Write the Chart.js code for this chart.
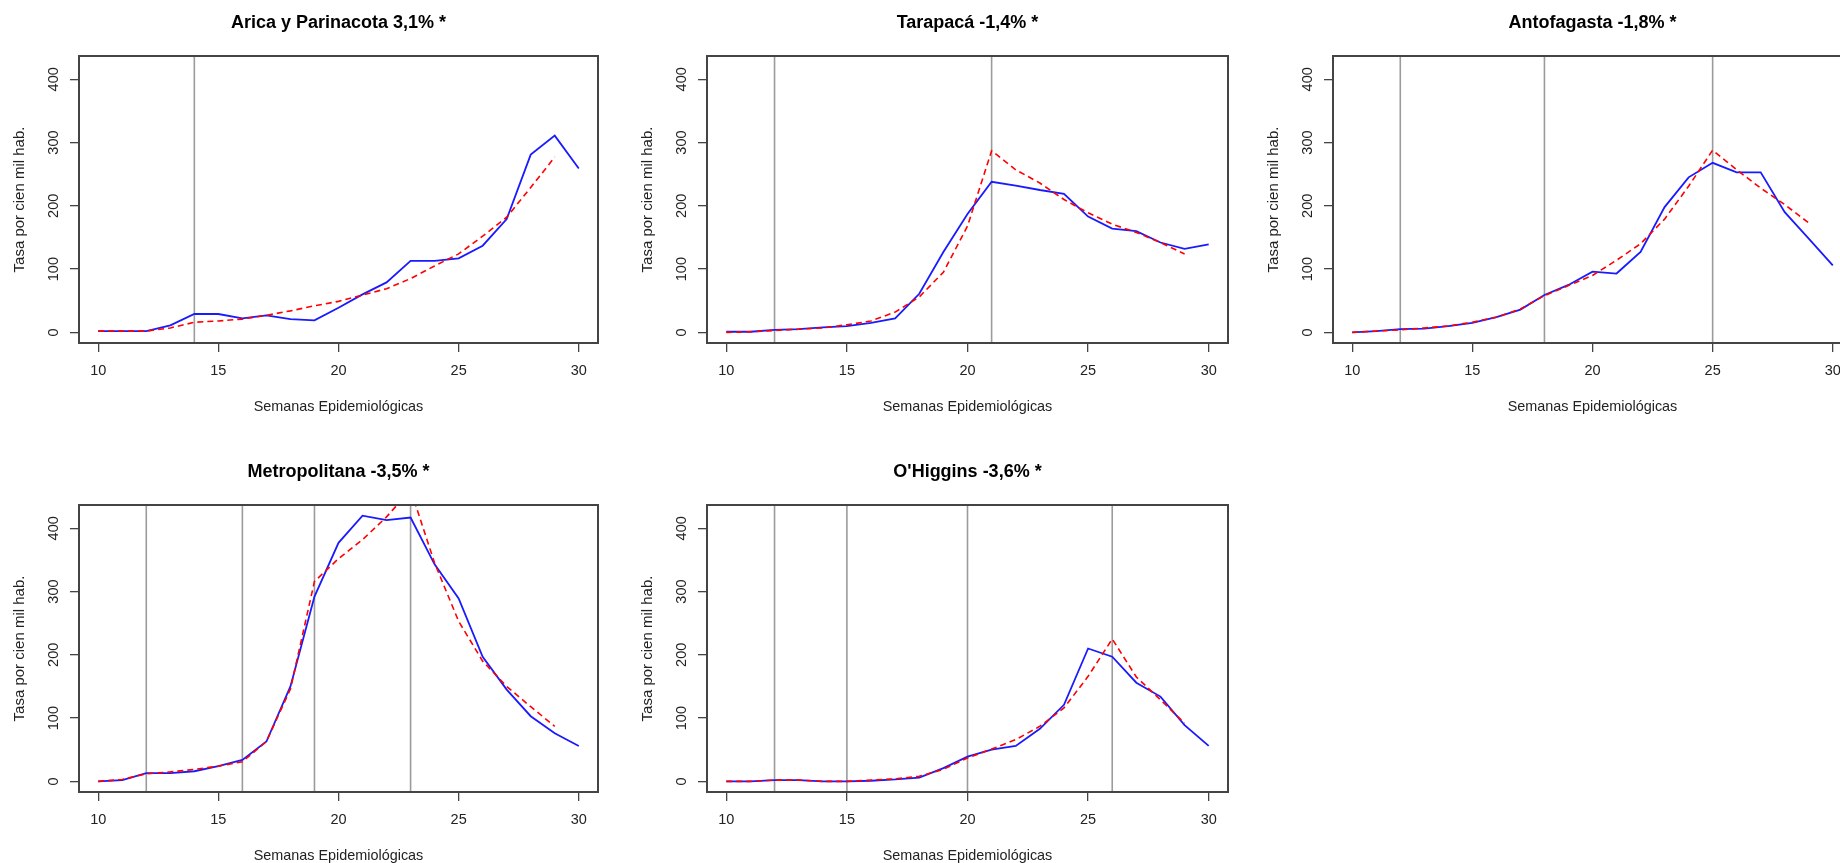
<!DOCTYPE html>
<html><head><meta charset="utf-8">
<script src="https://cdn.jsdelivr.net/npm/chart.js@4.4.1/dist/chart.umd.min.js"></script>
<style>
html,body{margin:0;padding:0;background:#fff;overflow:hidden;width:1840px;height:863px;}
canvas{position:absolute;}
</style></head><body>
<script>
// ---- data ----
const weeks = [10,11,12,13,14,15,16,17,18,19,20,21,22,23,24,25,26,27,28,29,30];
const xTicks = [10,15,20,25,30];
const yTicks = [0,100,200,300,400];
const xTitle = 'Semanas Epidemiológicas';
const yTitle = 'Tasa por cien mil hab.';

const aricaTitle = 'Arica y Parinacota 3,1% *';
const aricaObs = [2,2,2,11,29,29,22,27,21,19,39,60,79,113,113,117,137,179,281,311,259];
const aricaFit = [2,2,2,7,16,18,21,27,34,42,49,59,69,85,105,124,152,182,229,277];
const aricaBreaks = [14];

const tarapacaTitle = 'Tarapacá -1,4% *';
const tarapacaObs = [1,1,4,5,8,10,15,22,61,127,187,238,232,225,219,183,164,160,142,132,139];
const tarapacaFit = [0,1,3,5,7,12,18,32,56,95,168,287,257,236,210,189,171,158,142,124];
const tarapacaBreaks = [12,21];

const antofagastaTitle = 'Antofagasta -1,8% *';
const antofagastaObs = [0,2,5,6,10,15,24,36,59,75,96,93,127,198,245,268,253,253,190,148,106];
const antofagastaFit = [0,2,4,7,10,16,24,37,58,74,90,114,140,179,231,288,257,228,202,173];
const antofagastaBreaks = [12,18,25];

const metroTitle = 'Metropolitana -3,5% *';
const metroObs = [0,2,13,13,16,24,34,63,150,292,377,420,413,417,343,289,197,145,103,76,56];
const metroFit = [0,3,12,15,19,24,31,63,146,316,352,382,418,461,345,253,190,150,118,87];
const metroBreaks = [12,16,19,23];

const ohigginsTitle = "O'Higgins -3,6% *";
const ohigginsObs = [0,0,2,2,0,0,1,3,6,21,39,50,56,83,121,210,197,156,134,89,56];
const ohigginsFit = [0,0,2,2,0,0,2,4,8,19,37,51,66,87,116,166,225,165,129,92];
const ohigginsBreaks = [12,15,20,26];

// ---- layout ----
const FONT = "'Liberation Sans', Arial, Helvetica, sans-serif";
const Y_AXIS_W = 79, X_AXIS_H = 88, TITLE_H = 56, PLOT_H = 287, RIGHT_PAD = 12;
const panels = [
  {title: aricaTitle, obs: aricaObs, fit: aricaFit, breaks: aricaBreaks, left: 0, top: 0, plotW: 519},
  {title: tarapacaTitle, obs: tarapacaObs, fit: tarapacaFit, breaks: tarapacaBreaks, left: 628, top: 0, plotW: 521},
  {title: antofagastaTitle, obs: antofagastaObs, fit: antofagastaFit, breaks: antofagastaBreaks, left: 1254, top: 0, plotW: 519},
  {title: metroTitle, obs: metroObs, fit: metroFit, breaks: metroBreaks, left: 0, top: 449, plotW: 519},
  {title: ohigginsTitle, obs: ohigginsObs, fit: ohigginsFit, breaks: ohigginsBreaks, left: 628, top: 449, plotW: 521}
];

const framePlugin = {
  id: 'frame',
  beforeDatasetsDraw(chart, args, opts) {
    const {ctx, chartArea: a} = chart;
    const xs = chart.scales.x;
    ctx.save();
    ctx.strokeStyle = '#9b9b9b';
    ctx.lineWidth = 1.6;
    (opts.breaks || []).forEach(b => {
      const px = xs.getPixelForValue(b);
      ctx.beginPath();
      ctx.moveTo(px, a.top);
      ctx.lineTo(px, a.bottom);
      ctx.stroke();
    });
    ctx.restore();
  },
  afterDatasetsDraw(chart) {
    const {ctx, chartArea: a} = chart;
    ctx.save();
    ctx.strokeStyle = '#444';
    ctx.lineWidth = 2;
    ctx.strokeRect(a.left, a.top, a.right - a.left, a.bottom - a.top);
    ctx.restore();
  }
};

panels.forEach(p => {
  const cv = document.createElement('canvas');
  const w = Y_AXIS_W + p.plotW + RIGHT_PAD;
  const h = TITLE_H + PLOT_H + X_AXIS_H;
  cv.width = w; cv.height = h;
  cv.style.left = p.left + 'px'; cv.style.top = p.top + 'px';
  cv.style.width = w + 'px'; cv.style.height = h + 'px';
  document.body.appendChild(cv);

  const gridOpts = {display: true, drawOnChartArea: false, drawTicks: true, tickLength: 9, color: '#444', lineWidth: 1.3};
  new Chart(cv, {
    type: 'line',
    data: {
      datasets: [
        {label: 'ajuste', data: weeks.slice(0, p.fit.length).map((wk, i) => ({x: wk, y: p.fit[i]})),
         borderColor: '#ff0000', borderWidth: 1.6, borderDash: [6, 4], pointRadius: 0, tension: 0, fill: false},
        {label: 'tasa', data: weeks.map((wk, i) => ({x: wk, y: p.obs[i]})),
         borderColor: '#1a1aff', borderWidth: 1.8, pointRadius: 0, tension: 0, fill: false}
      ]
    },
    options: {
      responsive: false, animation: false, devicePixelRatio: 1,
      layout: {padding: {left: 0, right: RIGHT_PAD, top: 0, bottom: 0}},
      plugins: {
        legend: {display: false}, tooltip: {enabled: false},
        title: {display: true, text: p.title, fullSize: false, color: '#000',
                font: {family: FONT, size: 18, weight: 'bold', lineHeight: 1.2},
                padding: {top: 12, bottom: TITLE_H - 12 - 21.6}},
        frame: {breaks: p.breaks}
      },
      scales: {
        x: {
          type: 'linear', min: 9.2, max: 30.8,
          afterBuildTicks: s => { s.ticks = xTicks.map(v => ({value: v})); },
          afterFit: s => { s.height = X_AXIS_H; },
          grid: gridOpts, border: {display: false},
          ticks: {font: {family: FONT, size: 14.5}, color: '#222', padding: 10, maxRotation: 0, autoSkip: false},
          title: {display: true, text: xTitle, color: '#222', font: {family: FONT, size: 14.4, lineHeight: 1.2}, padding: {top: 0, bottom: 15.4}}
        },
        y: {
          type: 'linear', min: -16.8, max: 436.8,
          afterBuildTicks: s => { s.ticks = yTicks.map(v => ({value: v})); },
          afterFit: s => { s.width = Y_AXIS_W; },
          grid: gridOpts, border: {display: false},
          ticks: {font: {family: FONT, size: 14.5}, color: '#222', padding: 4, minRotation: 90, maxRotation: 90, crossAlign: 'center', autoSkip: false},
          title: {display: true, text: yTitle, color: '#222', font: {family: FONT, size: 15, lineHeight: 1.2}, padding: {top: 11, bottom: 0}}
        }
      }
    },
    plugins: [framePlugin]
  });
});
</script>
</body></html>
